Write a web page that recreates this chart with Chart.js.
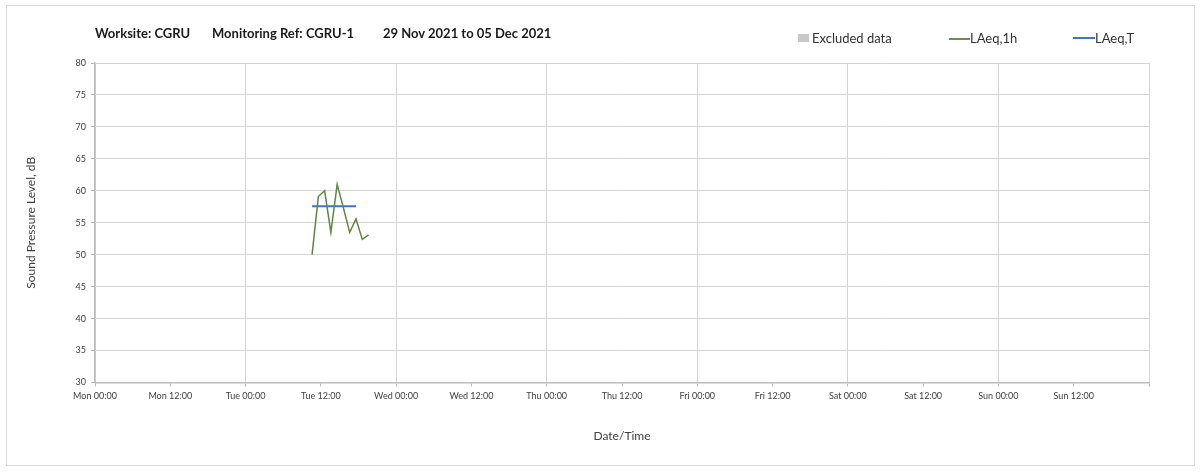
<!DOCTYPE html>
<html>
<head>
<meta charset="utf-8">
<script src="https://cdn.jsdelivr.net/npm/chart.js@4.4.0/dist/chart.umd.min.js"></script>
<style>
  html, body { margin: 0; padding: 0; background: #fff; }
  #wrap { position: relative; width: 1203px; height: 472px; overflow: hidden; }
  #frame { position: absolute; left: 6px; top: 5px; width: 1189px; height: 461px; border: 1px solid #d9d9d9; box-sizing: border-box; pointer-events: none; }
  canvas { position: absolute; left: 0; top: 0; }
  .t { position: absolute; top: 24px; font-family: Lato, "Open Sans", sans-serif; font-weight: bold; font-size: 13px; color: #1a1a1a; white-space: nowrap; line-height: 18px; }
  .lg { position: absolute; top: 29px; font-family: Lato, "Open Sans", sans-serif; font-size: 13px; color: #333; white-space: nowrap; line-height: 18px; }
  .sw { position: absolute; }
</style>
</head>
<body>
<div id="wrap">
  <canvas id="c" width="1203" height="472"></canvas>
  <div id="frame"></div>
  <div class="t" style="left:95px">Worksite: CGRU</div>
  <div class="t" style="left:212px">Monitoring Ref: CGRU-1</div>
  <div class="t" style="left:383px">29 Nov 2021 to 05 Dec 2021</div>
  <div class="sw" style="left:798px;top:34px;width:11px;height:8px;background:#c8c8c8"></div>
  <div class="lg" style="left:812px">Excluded data</div>
  <div class="sw" style="left:949px;top:38px;width:21px;height:1.5px;background:#6a8f4d"></div>
  <div class="lg" style="left:970px">LAeq,1h</div>
  <div class="sw" style="left:1073px;top:37px;width:22px;height:2px;background:#4472c4"></div>
  <div class="lg" style="left:1095px">LAeq,T</div>
</div>
<script>
// Tick labels along the time axis (every 12 hours, starting Mon 00:00)
const timeTickLabels = ['Mon 00:00','Mon 12:00','Tue 00:00','Tue 12:00','Wed 00:00','Wed 12:00',
  'Thu 00:00','Thu 12:00','Fri 00:00','Fri 12:00','Sat 00:00','Sat 12:00','Sun 00:00','Sun 12:00'];
// Hourly LAeq,1h samples: time in hours since Mon 00:00, and level in dB
const laeq1hHours = [34.6, 35.6, 36.6, 37.6, 38.6, 39.6, 40.6, 41.6, 42.6, 43.6];
const laeq1hValues = [50.0, 59.1, 60.0, 53.5, 61.0, 57.3, 53.5, 55.6, 52.4, 53.1];
// LAeq,T period level
const laeqTHours = [34.6, 41.6];
const laeqTValues = [57.6, 57.6];

const FONT = 'Lato, "Open Sans", sans-serif';
const gridCol = '#d4d4d4';
const axisCol = '#bcbcbc';

new Chart(document.getElementById('c'), {
  type: 'line',
  data: {
    datasets: [
      {
        label: 'LAeq,1h',
        data: laeq1hHours.map((h, i) => ({ x: h, y: laeq1hValues[i] })),
        borderColor: '#5f8744',
        borderWidth: 1.5,
        pointRadius: 0,
        tension: 0,
        fill: false
      },
      {
        label: 'LAeq,T',
        data: laeqTHours.map((h, i) => ({ x: h, y: laeqTValues[i] })),
        borderColor: '#4472c4',
        borderWidth: 2,
        pointRadius: 0,
        tension: 0,
        fill: false
      }
    ]
  },
  options: {
    responsive: false,
    animation: false,
    devicePixelRatio: 1,
    layout: { padding: { left: 20, right: 54, top: 63, bottom: 25 } },
    plugins: { legend: { display: false }, title: { display: false }, tooltip: { enabled: false } },
    scales: {
      x: {
        type: 'linear',
        min: 0,
        max: 168,
        afterFit: (s) => { s.height = 64.5; },
        ticks: {
          stepSize: 12,
          autoSkip: false,
          maxRotation: 0,
          padding: 4,
          color: '#404040',
          font: { family: FONT, size: 9 },
          callback: (v) => timeTickLabels[v / 12] || ''
        },
        grid: {
          color: (ctx) => (ctx.tick && ctx.tick.value % 24 === 0) ? gridCol : 'rgba(0,0,0,0)',
          tickColor: axisCol,
          tickLength: 4,
          lineWidth: 1
        },
        border: { color: axisCol, width: 1.5 },
        title: { display: true, text: 'Date/Time', color: '#404040', font: { family: FONT, size: 12 }, padding: { top: 4, bottom: 4 } }
      },
      y: {
        min: 30,
        max: 80,
        afterFit: (s) => { s.width = 75; },
        ticks: {
          stepSize: 5,
          padding: 5,
          color: '#404040',
          font: { family: FONT, size: 9 }
        },
        grid: { color: gridCol, tickColor: axisCol, tickLength: 4, lineWidth: 1 },
        border: { color: axisCol, width: 1.5 },
        title: { display: true, text: 'Sound Pressure Level, dB', color: '#404040', font: { family: FONT, size: 12 }, padding: { top: 4, bottom: 4 } }
      }
    }
  }
});
</script>
</body>
</html>
